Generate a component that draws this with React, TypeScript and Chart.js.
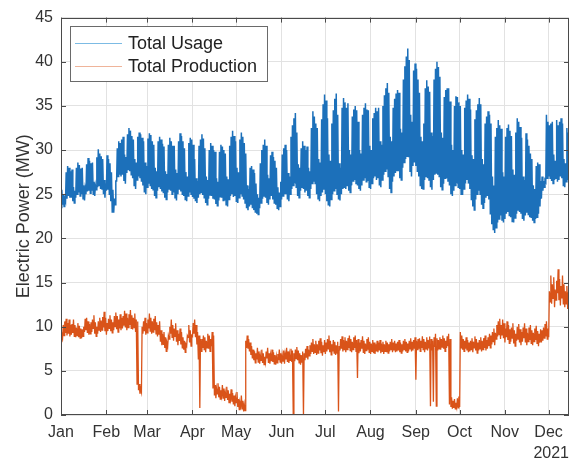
import React, { useEffect, useRef } from "react";
import { Chart, registerables } from "chart.js";

Chart.register(...registerables);

// ---- data (day index from 1 Jan 2021) ----
const monthStarts = [0, 31, 59, 90, 120, 151, 181, 212, 243, 273, 304, 334];
const monthLabels = ["Jan", "Feb", "Mar", "Apr", "May", "Jun", "Jul", "Aug", "Sep", "Oct", "Nov", "Dec"];
const yearLabel = "2021";
const seriesLabels = ["Total Usage", "Total Production"];
const yAxisTitle = "Electric Power (MW)";
const dayCount = 348;

// daily peak / daily trough of total usage (MW), one row per week starting Fri 1 Jan
const usageHigh = [
  25.5, 25, 24.5, 27.5, 28.2, 28, 27.6,
  27.8, 25.8, 25.4, 28, 28.6, 28.3, 27.9,
  28, 26, 25.6, 28.4, 29.1, 28.8, 28.5,
  28.6, 26.4, 26, 29.2, 30.1, 29.6, 29.3,
  29, 26.6, 26.2, 29.4, 29, 28.5, 27.5,
  25.5, 24.5, 26.5, 30.2, 31, 30.8, 31.2,
  31.5, 29.5, 29.2, 31.8, 32.5, 32.2, 31.6,
  31.2, 29, 28.6, 31.5, 32, 31.8, 31.4,
  31, 28.6, 28.2, 31.3, 31.9, 31.7, 31,
  30.6, 28, 27.6, 31, 31.5, 31.2, 30.7,
  30.4, 27.6, 27.3, 30.6, 31.4, 31, 30.5,
  30.5, 27.8, 27.4, 31, 31.9, 31.6, 31,
  30.2, 27.5, 27, 30.8, 31.4, 31.2, 30.6,
  29, 26.8, 26.5, 30.5, 31.2, 31.8, 31.3,
  30.2, 27, 26.6, 30, 30.8, 30.5, 30,
  29.8, 26.8, 26.4, 29.8, 30.6, 30.4, 30,
  29.6, 27, 26.7, 30.5, 31.5, 32.2, 31.6,
  31, 28, 27.5, 31.2, 32, 31.5, 30.8,
  29.6, 26, 25.6, 28, 28.2, 27.8, 27.4,
  26.2, 25, 24.6, 28.5, 30, 30.6, 31.2,
  30.5, 27.2, 26.8, 29.4, 29.8, 29.2, 28.8,
  28, 25.8, 25.2, 26.4, 29.5, 30.2, 30.6,
  30, 27.4, 27, 31.5, 32.8, 33.6, 34.2,
  32, 28.4, 28, 30.2, 31, 30.5, 30,
  30.4, 28, 27.6, 32.5, 34.4, 33.8, 33,
  32.5, 29, 28.6, 33.5, 35.2, 36.3, 35.6,
  33.6, 29.5, 28.8, 33, 34.5, 35.8, 36.4,
  34, 28.5, 28, 34.8, 35.9, 35.4, 34.8,
  35.3, 30, 29.5, 33.8, 34.6, 35, 34.5,
  33.2, 30, 29.6, 34, 34.8, 35.3, 34.6,
  34.5, 30.5, 30, 33.6, 34.2, 34.8, 34.4,
  34.8, 31, 30.6, 35, 36.2, 37, 37.6,
  36.5, 31.5, 31, 34.8, 35.8, 36.4, 36.8,
  36.5, 32.4, 32, 38, 39.5, 40.6, 41.5,
  40.2, 34, 33.2, 39, 39.8, 39.2, 38,
  36.5, 31.5, 31, 33, 37, 37.9, 37.2,
  36.6, 32, 31.6, 38, 39.2, 40, 39.4,
  38.3, 32, 31.4, 36, 36.8, 37, 37,
  35.5, 30.6, 30, 35, 36.1, 36, 35.4,
  35, 30, 29.5, 34.8, 35.6, 36.3, 35.8,
  34.6, 29.4, 29, 33.5, 34.5, 35.2, 35.9,
  35.2, 29, 28.4, 33, 33.8, 34.4, 34,
  33, 27, 26, 31.5, 32.5, 33.4, 32.8,
  32.4, 27.5, 27, 31.5, 32.5, 32.9, 32.2,
  31.6, 27.8, 27.2, 32, 33.6, 33.2, 32.6,
  31.4, 27, 26.6, 31.9, 31.2, 30.5, 29.6,
  29, 26, 25.6, 28.2, 28.6, 28.4, 26.5,
  27, 26.5, 26.6, 34, 33.2, 32.8, 33,
  33.2, 29.5, 28.8, 33.4, 32.8, 33.2, 33.6,
  33, 29, 28.5, 32.5, 32,
];

const usageLow = [
  23.5, 23.8, 23.6, 24.2, 24.5, 24.8, 24.6,
  24.6, 24.2, 24, 24.6, 25, 25.2, 24.8,
  25, 24.5, 24.3, 25, 25.3, 25.4, 25.1,
  25.4, 25, 24.8, 25.5, 25.8, 26, 25.6,
  25.6, 25, 24.6, 25.4, 25.5, 25, 24.2,
  23, 22.9, 23.8, 26.5, 27, 27.2, 27,
  27.2, 26.5, 26.2, 27.4, 27.8, 27.6, 27.2,
  26.8, 26, 25.6, 26.6, 27, 26.8, 26.4,
  26, 25.2, 25, 25.8, 26.2, 26, 25.6,
  25.5, 24.8, 24.6, 25.4, 25.8, 25.6, 25.3,
  25.2, 24.6, 24.4, 25.2, 25.6, 25.4, 25,
  25.2, 24.6, 24.3, 25, 25.5, 25.3, 25,
  24.8, 24.4, 24.2, 24.8, 25.2, 25, 24.7,
  24.5, 24.2, 24, 24.6, 25, 25.2, 24.9,
  24.6, 24, 23.8, 24.5, 24.9, 24.8, 24.5,
  24.4, 23.9, 23.7, 24.3, 24.7, 24.6, 24.3,
  24.3, 23.8, 23.6, 24.4, 24.8, 25, 24.7,
  24.8, 24.2, 24, 24.6, 25, 24.8, 24.4,
  24, 23.4, 23.2, 23.6, 23.8, 23.4, 23.2,
  23, 22.8, 22.7, 23.4, 24, 24.5, 24.8,
  24.6, 24, 23.8, 24.4, 24.8, 24.4, 24,
  23.8, 23.4, 23.2, 23.6, 24.4, 24.8, 25,
  25, 24.4, 24.2, 25, 25.6, 26, 26.2,
  25.8, 24.8, 24.6, 25.4, 25.8, 25.6, 25.2,
  25.4, 24.8, 24.6, 25.6, 26.2, 26.4, 26.2,
  25, 24.5, 24.2, 24.8, 25.2, 25.5, 25,
  24.2, 23.8, 23.6, 24.4, 25, 25.4, 25.6,
  25, 24.4, 24.3, 25, 25.6, 25.8, 25.6,
  26, 25.4, 25.2, 26, 26.5, 26.6, 26.2,
  26, 25.6, 25.4, 26, 26.6, 26.8, 26.4,
  26.5, 25.8, 25.6, 26.2, 26.8, 27, 26.6,
  26.8, 26, 25.8, 26.6, 27.2, 27.6, 27.8,
  27, 25.6, 25.2, 26.4, 27, 27.4, 27.6,
  27.6, 26.8, 26.6, 28, 28.6, 29, 29.3,
  29.2, 27.6, 27, 28.2, 28.6, 28.2, 27.6,
  27, 26, 25.6, 25.6, 26.6, 27, 26.8,
  26.6, 25.8, 25.5, 26.6, 27.2, 27.4, 27.2,
  27, 25.8, 25.5, 26.2, 26.8, 26.8, 26.4,
  26, 25, 24.8, 25.4, 26, 26.2, 25.8,
  25.6, 25, 24.9, 25.6, 26.2, 26.6, 26.2,
  25.6, 24.4, 23.6, 23.2, 24.4, 25, 25.4,
  25, 23.8, 23.4, 24, 24.6, 24.8, 24.4,
  22.8, 21.6, 21, 20.6, 21.2, 21.8, 22.2,
  22.6, 22, 21.8, 22.2, 22.8, 23, 22.6,
  22.4, 21.9, 21.8, 22.3, 22.8, 23.2, 23,
  22.8, 22.2, 22, 22.6, 22.9, 22.7, 22.4,
  22.4, 22, 21.8, 22.2, 22.4, 22.8, 23.6,
  24.5, 25.4, 25.8, 26.4, 26.8, 27, 26.8,
  26.5, 26.2, 26.6, 26.8, 26.4, 26.6, 27,
  26.8, 26, 25.8, 26.4, 26.6,
];

// daily peak / daily trough of total production (MW)
const productionHigh = [
  9.2, 10.2, 10.6, 10.9, 10.4, 10.8, 10.2,
  10.3, 10.8, 10.2, 9.9, 10.4, 10.1, 9.8,
  9.7, 10, 10.9, 11, 10.6, 10.3, 10.5,
  10.8, 11.3, 10.5, 10, 10.6, 11, 10.7,
  11.1, 11.7, 11, 10.4, 10.9, 11.3, 10.8,
  10.5, 11.2, 11.6, 11.2, 10.8, 11.4, 11,
  11.2, 11.8, 11.5, 11, 11.4, 11.9, 11.3,
  11, 11.5, 10.8, 10.6, 3.5, 3, 10,
  10.6, 11, 10.4, 10.8, 11.5, 11, 10.6,
  10.9, 11.2, 10.5, 10.2, 10.6, 9.6, 9.2,
  9.4, 8.8, 8.2, 9, 10, 10.8, 10.2,
  9.8, 10.4, 9.6, 9.2, 9.8, 9.4, 8.8,
  8.4, 8, 9, 10.2, 9.6, 9, 10.4,
  10.8, 10.2, 9.4, 9, 8.6, 8.6, 9,
  8.8, 8.4, 9.2, 9, 8.6, 9.4, 9,
  3.4, 3, 3.6, 3.2, 2.8, 3.4, 3,
  2.6, 3.2, 2.8, 2.4, 2.9, 2.5, 2.2,
  2, 2.6, 1.8, 1.4, 2.2, 1.6, 1.2,
  8.4, 9, 8.6, 8.2, 7.8, 7.4, 7.2,
  7, 7.6, 7.2, 6.8, 7.4, 7, 6.6,
  7.2, 7.6, 7, 6.8, 7.4, 7.1, 6.8,
  6.6, 6.9, 7.4, 7, 6.8, 7.3, 6.9,
  7.6, 7.2, 6.9, 7.5, 7.3, 7, 7.4,
  7.7, 7.3, 7, 6.8, 7.2, 7, 7.5,
  7.8, 7.4, 7.9, 8.2, 8.6, 8, 8.4,
  8, 8.4, 8.7, 8.3, 7.9, 8.5, 8.2,
  8.6, 9, 8.4, 8, 8.5, 8.3, 7.9,
  8.3, 7.8, 8.6, 8.9, 8.5, 8.8, 8.4,
  8.7, 9, 8.6, 8.3, 8.8, 9, 8.5,
  8.6, 8.2, 8.5, 8.9, 8.4, 8.1, 8.6,
  8.8, 8.3, 8.1, 8.5, 8.2, 8, 8.4,
  8.2, 8.5, 8.1, 8.3, 8, 8.4, 8.2,
  8, 8.3, 8.6, 8.2, 8.4, 8.1, 8.3,
  8.5, 8.2, 8, 8.4, 8.6, 8.3, 8.1,
  8.4, 8.7, 8.3, 8.5, 8.8, 8.4, 8.6,
  8.7, 8.4, 8.9, 8.6, 8.3, 8.8, 8.5,
  8.9, 8.6, 8.4, 8.8, 9.2, 8.7, 8.5,
  8.8, 8.6, 9, 8.7, 8.4, 8.9, 9.2,
  8.6, 2, 1.6, 1.8, 1.4, 1.9, 2.1,
  9.4, 9, 8.6, 8.4, 8.8, 8.5, 8.2,
  8.4, 8.7, 8.3, 8.9, 8.6, 8.2, 8.5,
  8.8, 8.4, 8.7, 9, 8.5, 8.8, 9.2,
  9, 9.4, 9.8, 9.3, 10.2, 10.6, 10.9,
  10.2, 10.8, 10.4, 9.8, 10.6, 10.2, 9.7,
  9.9, 10.4, 9.6, 9.2, 10, 10.3, 9.7,
  9.4, 9.9, 10.4, 9.8, 9.3, 9.9, 10.2,
  9.6, 9.3, 9.8, 10.1, 9.5, 9.2, 9.7,
  9.6, 9.9, 10.3, 10.6, 9.8, 14, 15.8,
  14.8, 15.6, 14.2, 15.2, 16.5, 15.4, 14.6,
  15.8, 14.8, 14, 14.6, 13.9,
];

const productionLow = [
  8.3, 8.8, 9, 9.3, 9, 9.2, 8.9,
  9.1, 9.3, 8.9, 8.8, 9, 8.8, 8.7,
  8.7, 8.9, 9.4, 9.6, 9.3, 9.1, 9.2,
  9.4, 9.8, 9.2, 8.9, 9.2, 9.6, 9.4,
  9.6, 9.9, 9.5, 9.1, 9.5, 9.8, 9.5,
  9.3, 9.6, 10, 9.7, 9.4, 9.8, 9.6,
  9.8, 10.1, 9.9, 9.6, 9.9, 10.2, 9.8,
  9.7, 9.9, 9.4, 3.5, 2.8, 2.4, 2.6,
  9.2, 9.5, 9.1, 9.3, 9.8, 9.5, 9.2,
  9.4, 9.6, 9.2, 8.9, 9.1, 8.3, 7.9,
  8, 7.6, 7.2, 7.8, 8.6, 9.2, 8.8,
  8.4, 8.9, 8.3, 7.9, 8.4, 8, 7.6,
  7.4, 7.1, 7.8, 8.8, 8.2, 7.8, 8.9,
  9.2, 8.8, 8, 6.3, 0.8, 7.2, 7.6,
  7.4, 7.1, 7.6, 7.5, 7.2, 7.8, 3,
  2.2, 1.9, 2.4, 2, 1.8, 2.2, 1.9,
  1.6, 2, 1.7, 1.4, 1.8, 1.5, 1.2,
  1, 1.4, 0.9, 0.6, 1, 0.7, 0.4,
  0.5, 7.6, 7.5, 7.2, 6.8, 6.4, 6.2,
  5.9, 6.3, 6, 5.8, 6.2, 5.9, 5.7,
  6, 6.4, 5.9, 5.8, 6.1, 6, 5.8,
  5.7, 5.9, 6.2, 6, 5.8, 6.1, 5.8,
  6.3, 6, 5.9, 6.2, 6, 0, 6.1,
  6.4, 6.2, 5.9, 5.7, 6, 0, 6.2,
  6.5, 6.3, 6.7, 6.9, 7.2, 6.9, 7.1,
  6.8, 7, 7.3, 7, 6.7, 7.1, 6.9,
  7.2, 7.5, 7.1, 6.8, 7.2, 7, 6.8,
  7, 0.4, 7.3, 7.5, 7.2, 7.4, 7.1,
  7.4, 7.6, 7.3, 7.1, 7.4, 7.6, 7.2,
  4.2, 7, 7.2, 7.5, 7.1, 6.9, 7.3,
  7.4, 7.1, 6.9, 7.2, 7, 6.9, 7.2,
  7.1, 7.3, 7, 7.2, 6.9, 7.2, 7.1,
  7, 7.2, 7.4, 7.1, 7.3, 7.1, 7.2,
  7.3, 7.1, 7, 7.2, 7.4, 7.2, 7.1,
  7.2, 7.5, 7.2, 7.3, 7.5, 4, 7.4,
  7.5, 7.2, 7.6, 7.4, 7.1, 7.5, 7.3,
  7.6, 1, 7.3, 1.5, 7.7, 1, 7.3,
  7.5, 7.4, 7.7, 7.5, 7.2, 7.6, 7.8,
  1.2, 0.9, 0.7, 0.8, 0.7, 0.9, 0.8,
  0.9, 7.6, 7.4, 7.2, 7.5, 7.3, 7.1,
  7.2, 7.4, 7.1, 7.6, 7.3, 7, 7.3,
  7.5, 7.2, 7.4, 7.6, 7.3, 7.5, 7.8,
  7.6, 8, 8.3, 7.9, 8.6, 8.9, 9.1,
  8.6, 9, 8.7, 8.2, 8.8, 8.5, 8.1,
  8.3, 8.7, 8.1, 7.8, 8.4, 8.6, 8.2,
  7.9, 8.3, 8.7, 8.2, 7.9, 8.3, 8.5,
  8.1, 7.9, 8.3, 8.5, 8.1, 7.8, 8.2,
  8.2, 8.4, 8.7, 8.9, 8.6, 8.8, 12.8,
  12.6, 13.2, 12.2, 13, 13.8, 13, 12.4,
  13.2, 12.6, 12.2, 12.6, 12,
];

// ---- styling ----
const FONT = "'Liberation Sans', Arial, Helvetica, sans-serif";
const TEXT = "#333333";
const AXIS = "#4a4a4a";
const GRID = "#e2e2e2";
const USAGE_COLOR = "#1c70ba";
const PROD_COLOR = "#d95319";
const LEGEND_LINE = ["#7cbbe4", "#efb49a"];

function band(lows: number[], highs: number[]) {
  const pts: { x: number; y: number }[] = [];
  lows.forEach((lo, d) => {
    pts.push({ x: d + 0.1, y: lo });
    pts.push({ x: d + 0.55, y: highs[d] });
  });
  return pts;
}

const framePlugin = {
  id: "frame",
  afterDatasetsDraw(chart: any) {
    const { ctx, chartArea: a, scales } = chart;
    ctx.save();
    ctx.strokeStyle = AXIS;
    ctx.lineWidth = 1;
    ctx.strokeRect(Math.round(a.left) + 0.5, Math.round(a.top) + 0.5, Math.round(a.right - a.left) - 1, Math.round(a.bottom - a.top) - 1);
    ctx.beginPath();
    const tl = 5;
    scales.x.ticks.forEach((t: any) => {
      const px = Math.round(scales.x.getPixelForValue(t.value)) + 0.5;
      ctx.moveTo(px, a.bottom);
      ctx.lineTo(px, a.bottom - tl);
      ctx.moveTo(px, a.top);
      ctx.lineTo(px, a.top + tl);
    });
    scales.y.ticks.forEach((t: any) => {
      const py = Math.round(scales.y.getPixelForValue(t.value)) + 0.5;
      ctx.moveTo(a.left, py);
      ctx.lineTo(a.left + tl, py);
      ctx.moveTo(a.right, py);
      ctx.lineTo(a.right - tl, py);
    });
    ctx.stroke();
    ctx.restore();
  },
};

const legendPlugin = {
  id: "insideLegend",
  afterDraw(chart: any) {
    const { ctx, chartArea: a } = chart;
    const x = Math.round(a.left) + 9;
    const y = Math.round(a.top) + 8;
    const w = 197;
    const h = 55;
    ctx.save();
    ctx.fillStyle = "#ffffff";
    ctx.fillRect(x, y, w, h);
    ctx.strokeStyle = "#6a6a6a";
    ctx.lineWidth = 1;
    ctx.strokeRect(x + 0.5, y + 0.5, w, h);
    ctx.font = `18px ${FONT}`;
    ctx.textBaseline = "middle";
    ctx.textAlign = "left";
    chart.data.datasets.forEach((ds: any, i: number) => {
      const cy = y + 17 + i * 23;
      ctx.strokeStyle = LEGEND_LINE[i];
      ctx.beginPath();
      ctx.moveTo(x + 5, cy + 0.5);
      ctx.lineTo(x + 52, cy + 0.5);
      ctx.stroke();
      ctx.fillStyle = "#222222";
      ctx.fillText(ds.label, x + 58, cy + 1);
    });
    ctx.restore();
  },
};

export default function App() {
  const ref = useRef<HTMLCanvasElement | null>(null);

  useEffect(() => {
    document.body.style.margin = "0";
    if (!ref.current) return;
    const chart = new Chart(ref.current, {
      type: "line",
      data: {
        datasets: [
          {
            label: seriesLabels[0],
            data: band(usageLow, usageHigh),
            borderColor: USAGE_COLOR,
            borderWidth: 1.5,
            pointRadius: 0,
            tension: 0,
          },
          {
            label: seriesLabels[1],
            data: band(productionLow, productionHigh),
            borderColor: PROD_COLOR,
            borderWidth: 1.3,
            pointRadius: 0,
            tension: 0,
          },
        ],
      },
      options: {
        animation: false,
        responsive: false,
        devicePixelRatio: 1,
        parsing: false as any,
        normalized: true,
        layout: { padding: { top: 15, right: 2, left: 0, bottom: 0 } },
        plugins: {
          legend: { display: false },
          tooltip: { enabled: false },
        },
        scales: {
          x: {
            type: "linear",
            min: 0,
            max: dayCount,
            afterBuildTicks: (scale: any) => {
              scale.ticks = monthStarts.map((v) => ({ value: v }));
            },
            afterFit: (scale: any) => {
              scale.height = 45;
            },
            ticks: {
              autoSkip: false,
              maxRotation: 0,
              padding: 8,
              color: TEXT,
              font: { family: FONT, size: 16 },
              callback: (_v: any, i: number) => monthLabels[i],
            },
            grid: { color: GRID, drawTicks: false },
            border: { display: false },
            title: {
              display: true,
              text: yearLabel,
              align: "end",
              color: TEXT,
              font: { family: FONT, size: 16, lineHeight: 1 },
              padding: { top: 0, bottom: -2 },
            },
          },
          y: {
            min: 0,
            max: 45,
            afterFit: (scale: any) => {
              scale.width = 61;
            },
            ticks: {
              stepSize: 5,
              padding: 8,
              color: TEXT,
              font: { family: FONT, size: 16 },
            },
            grid: { color: GRID, drawTicks: false },
            border: { display: false },
            title: {
              display: true,
              text: yAxisTitle,
              color: TEXT,
              font: { family: FONT, size: 18 },
              padding: { top: 13, bottom: 0 },
            },
          },
        },
      },
      plugins: [framePlugin, legendPlugin],
    });
    return () => chart.destroy();
  }, []);

  return (
    <div style={{ width: 571, height: 460, background: "#ffffff" }}>
      <canvas ref={ref} width={571} height={460} />
    </div>
  );
}
